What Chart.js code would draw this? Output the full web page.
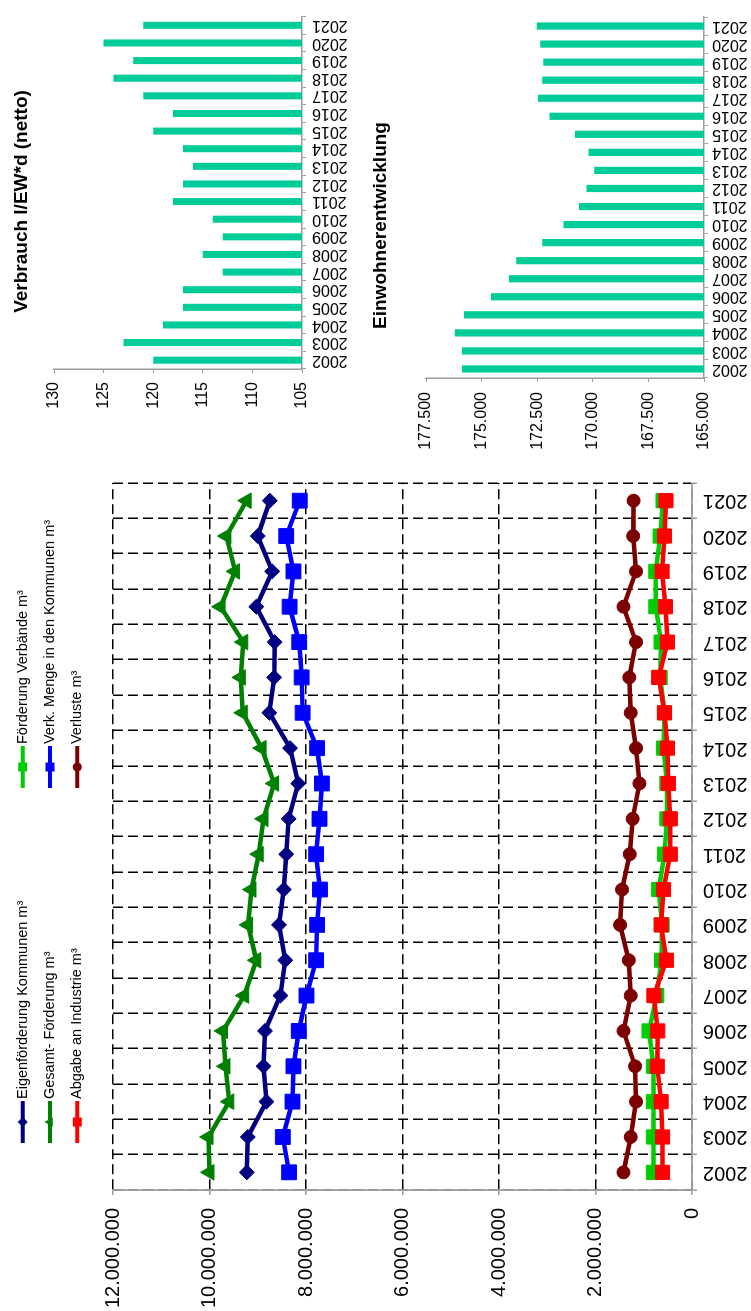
<!DOCTYPE html>
<html>
<head>
<meta charset="utf-8">
<script src="https://cdn.jsdelivr.net/npm/chart.js@4.4.1/dist/chart.umd.min.js"></script>
<style>
  html, body { margin: 0; padding: 0; background: #fff; overflow: hidden; }
  #page {
    position: absolute; left: 0; top: 0; width: 1311px; height: 751px;
    transform-origin: 0 0; transform: translate(0, 1311px) rotate(-90deg);
    background: #fff;
  }
  canvas { position: absolute; display: block; }
</style>
</head>
<body>
<div id="page">
  <canvas id="lines" width="860" height="751" style="left:0;top:0"></canvas>
  <canvas id="verbrauch" width="431" height="360" style="left:880px;top:0"></canvas>
  <canvas id="einwohner" width="456" height="391" style="left:855px;top:360px"></canvas>
</div>
<script>
// Jahre
const years = ['2002', '2003', '2004', '2005', '2006', '2007', '2008', '2009', '2010', '2011',
               '2012', '2013', '2014', '2015', '2016', '2017', '2018', '2019', '2020', '2021'];

// Wassermengen m³
const eigenfoerderung = [9226000, 9206000, 8820000, 8880000, 8850000, 8530000, 8430000, 8560000, 8460000, 8410000,
                         8360000, 8160000, 8330000, 8760000, 8660000, 8650000, 9030000, 8700000, 9000000, 8750000];
const foerderungVerbaende = [800000, 800000, 800000, 800000, 890000, 730000, 630000, 620000, 690000, 570000,
                             520000, 520000, 590000, 570000, 660000, 640000, 750000, 750000, 660000, 600000];
const gesamtFoerderung = [10000000, 10020000, 9590000, 9670000, 9720000, 9280000, 9030000, 9200000, 9130000, 8980000,
                          8880000, 8660000, 8920000, 9310000, 9350000, 9300000, 9770000, 9470000, 9650000, 9230000];
const verkMenge = [8350000, 8480000, 8280000, 8260000, 8150000, 7990000, 7790000, 7770000, 7710000, 7790000,
                   7720000, 7670000, 7770000, 8070000, 8090000, 8140000, 8340000, 8260000, 8410000, 8130000];
const abgabeIndustrie = [610000, 610000, 640000, 720000, 710000, 790000, 530000, 640000, 590000, 450000,
                         450000, 490000, 510000, 570000, 690000, 510000, 550000, 620000, 570000, 540000];
const verluste = [1420000, 1270000, 1160000, 1180000, 1420000, 1270000, 1310000, 1490000, 1450000, 1290000,
                  1230000, 1090000, 1160000, 1270000, 1300000, 1160000, 1420000, 1160000, 1220000, 1210000];

// Verbrauch l/EW*d und Einwohner
const verbrauch = [120, 123, 119, 117, 117, 113, 115, 113, 114, 118,
                   117, 116, 117, 120, 118, 121, 124, 122, 125, 121];
const einwohner = [175880, 175880, 176210, 175790, 174580, 173770, 173440, 172270, 171320, 170620,
                   170280, 169930, 170190, 170800, 171950, 172460, 172270, 172230, 172360, 172520];

const FONT = '"Liberation Sans", Arial, sans-serif';
Chart.defaults.font.family = FONT;
Chart.defaults.color = '#000';
Chart.defaults.animation = false;

const AXIS_GREY = '#9c9c9c';
const dotted = (v) => String(v).replace(/\B(?=(\d{3})+(?!\d))/g, '.');

function marker(ctx, style, x, y, r, color) {
  ctx.fillStyle = color;
  ctx.beginPath();
  if (style === 'circle') {
    ctx.arc(x, y, r, 0, Math.PI * 2);
  } else if (style === 'rect') {
    ctx.rect(x - r, y - r, 2 * r, 2 * r);
  } else if (style === 'rectRot') {
    ctx.moveTo(x, y - r); ctx.lineTo(x + r, y); ctx.lineTo(x, y + r); ctx.lineTo(x - r, y); ctx.closePath();
  } else {
    ctx.moveTo(x, y - r); ctx.lineTo(x + r * 0.87, y + r * 0.5); ctx.lineTo(x - r * 0.87, y + r * 0.5); ctx.closePath();
  }
  ctx.fill();
}

// Legende in zwei Spalten wie im Original
const gridLegend = {
  id: 'gridLegend',
  afterDraw(chart, args, o) {
    const ctx = chart.ctx;
    chart.data.datasets.forEach((ds, i) => {
      const x = o.cols[o.slots[i][0]], y = o.rows[o.slots[i][1]];
      ctx.save();
      ctx.strokeStyle = ds.borderColor;
      ctx.lineWidth = 4;
      ctx.beginPath();
      ctx.moveTo(x, y); ctx.lineTo(x + o.lineLen, y);
      ctx.stroke();
      marker(ctx, ds.pointStyle, x + o.lineLen / 2, y, o.sizes[ds.pointStyle], ds.borderColor);
      ctx.fillStyle = '#000';
      ctx.font = '14.5px ' + FONT;
      ctx.textAlign = 'left';
      ctx.textBaseline = 'middle';
      ctx.fillText(ds.label, x + o.lineLen + 2, y);
      ctx.restore();
    });
  }
};

const caption = {
  id: 'caption',
  afterDraw(chart, args, o) {
    const ctx = chart.ctx;
    ctx.save();
    ctx.font = 'bold 19px ' + FONT;
    ctx.fillStyle = '#000';
    ctx.textAlign = 'center';
    ctx.textBaseline = 'middle';
    ctx.fillText(o.text, o.x, o.y);
    ctx.restore();
  }
};

function lineSet(label, data, color, style, radius, order) {
  return {
    label: label, data: data, borderColor: color, backgroundColor: color,
    pointStyle: style, pointRadius: radius, pointBackgroundColor: color,
    pointBorderColor: color, pointBorderWidth: 1, borderWidth: 4.5,
    tension: 0, order: order
  };
}

new Chart(document.getElementById('lines'), {
  type: 'line',
  data: {
    labels: years,
    datasets: [
      lineSet('Eigenförderung Kommunen m³', eigenfoerderung, '#000080', 'rectRot', 7.5, 1),
      lineSet('Förderung Verbände m³', foerderungVerbaende, '#00cc00', 'rect', 10, 2),
      lineSet('Gesamt- Förderung m³', gesamtFoerderung, '#008000', 'triangle', 9, 1),
      lineSet('Verk. Menge in den Kommunen m³', verkMenge, '#0000ff', 'rect', 10.5, 1),
      lineSet('Abgabe an Industrie m³', abgabeIndustrie, '#ff0000', 'rect', 10, 0),
      lineSet('Verluste m³', verluste, '#7c0000', 'circle', 6.5, 1)
    ]
  },
  options: {
    responsive: false,
    layout: { padding: { top: 113, right: 32, left: 0, bottom: 0 } },
    plugins: {
      legend: { display: false },
      tooltip: { enabled: false },
      gridLegend: {
        cols: [168, 523], rows: [22.7, 50, 77.3], lineLen: 42,
        slots: [[0, 0], [1, 0], [0, 1], [1, 1], [0, 2], [1, 2]],
        sizes: { rect: 4.5, rectRot: 5, triangle: 5.5, circle: 4.5 }
      }
    },
    scales: {
      x: {
        offset: true,
        grid: { offset: true, color: '#000', lineWidth: 1.5, tickLength: 5, tickColor: AXIS_GREY, tickBorderDash: [] },
        border: { color: AXIS_GREY, width: 1.8, dash: [10, 5] },
        ticks: { minRotation: 90, maxRotation: 90, autoSkip: false, padding: 6, font: { size: 20 }, color: '#000' },
        afterFit: (s) => { s.height = 59; }
      },
      y: {
        min: 0, max: 12000000,
        grid: { color: '#000', lineWidth: 1.5, tickLength: 5, tickColor: AXIS_GREY, tickBorderDash: [] },
        border: { color: AXIS_GREY, width: 1.8, dash: [10, 5] },
        ticks: { stepSize: 2000000, padding: 13, font: { size: 20 }, color: '#000', callback: (v) => dotted(v) },
        afterFit: (s) => { s.width = 121; }
      }
    }
  },
  plugins: [gridLegend]
});

function barChart(id, values, min, max, step, area, fontSize, labelPad, catPad, title) {
  return new Chart(document.getElementById(id), {
    type: 'bar',
    data: {
      labels: years,
      datasets: [{ data: values, backgroundColor: '#00cc99', categoryPercentage: 1, barPercentage: 0.4 }]
    },
    options: {
      responsive: false,
      layout: { padding: { top: area.top, right: area.right, left: 0, bottom: 0 } },
      plugins: { legend: { display: false }, tooltip: { enabled: false }, caption: title },
      scales: {
        x: {
          grid: { drawOnChartArea: false, tickLength: 4, color: AXIS_GREY },
          border: { color: AXIS_GREY, width: 1.5 },
          ticks: { minRotation: 90, maxRotation: 90, autoSkip: false, padding: catPad, font: { size: fontSize } },
          afterFit: (s) => { s.height = area.xh; }
        },
        y: {
          min: min, max: max,
          grid: { drawOnChartArea: false, tickLength: 4, color: AXIS_GREY },
          border: { color: AXIS_GREY, width: 1.5 },
          ticks: { stepSize: step, padding: labelPad, font: { size: fontSize }, callback: (v) => dotted(v) },
          afterFit: (s) => { s.width = area.yw; }
        }
      }
    },
    plugins: [caption]
  });
}

barChart('verbrauch', verbrauch, 105, 130, 5,
  { top: 54, right: 6, xh: 58, yw: 62 }, 16, 9, 6,
  { text: 'Verbrauch l/EW*d (netto)', x: 229.5, y: 21.5 });

barChart('einwohner', einwohner, 165000, 177500, 2500,
  { top: 66, right: 17, xh: 47, yw: 78 }, 16, 10, 4,
  { text: 'Einwohnerentwicklung', x: 230.5, y: 20.5 });
</script>
</body>
</html>
